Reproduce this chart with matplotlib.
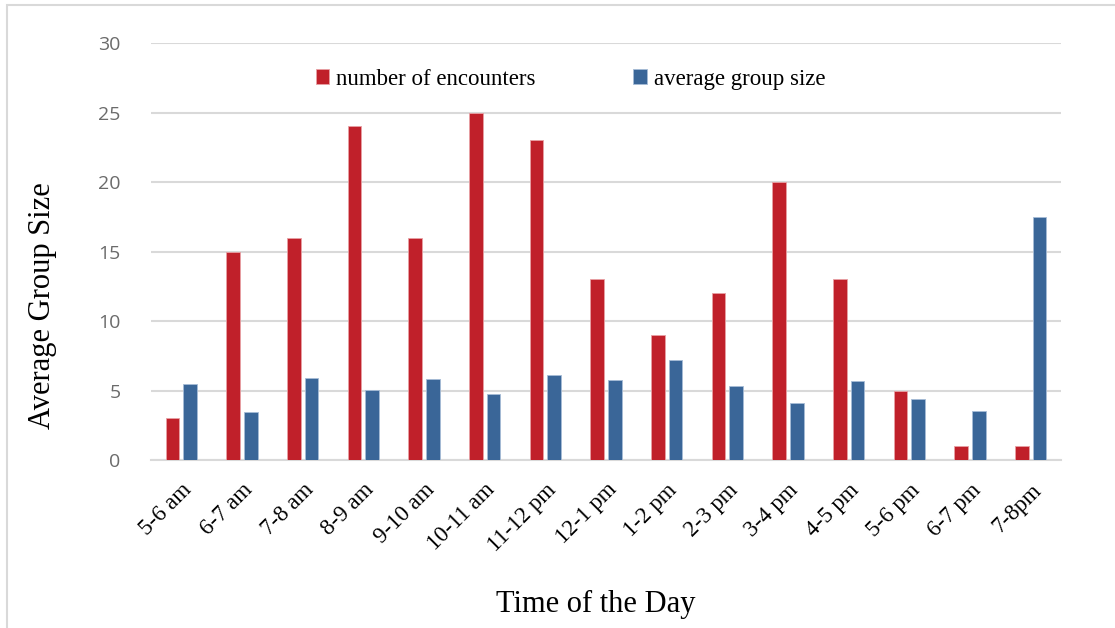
import matplotlib.pyplot as plt
import numpy as np
from matplotlib.patches import Rectangle

hours = ["5-6 am", "6-7 am", "7-8 am", "8-9 am", "9-10 am", "10-11 am", "11-12 pm",
         "12-1 pm", "1-2 pm", "2-3 pm", "3-4 pm", "4-5 pm", "5-6 pm", "6-7 pm", "7-8pm"]
encounters = [3, 15, 16, 24, 16, 25, 23, 13, 9, 12, 20, 13, 5, 1, 1]
group_size = [5.5, 3.45, 5.9, 5.05, 5.8, 4.75, 6.15, 5.75, 7.2, 5.35, 4.1, 5.7, 4.4, 3.5, 17.5]

RED = "#c0202a"
BLUE = "#3a6698"
SERIF = "Liberation Serif"


def main():
    fig = plt.figure(figsize=(11.15, 6.28), dpi=100)
    ax = fig.add_axes([0.1354, 0.2675, 0.8162, 0.664])

    x = np.arange(len(hours))
    w = 0.224
    ax.bar(x - 0.145, encounters, width=w, color=RED, edgecolor="#e8a0a4",
           linewidth=0.6, label="number of encounters", zorder=3)
    ax.bar(x + 0.145, group_size, width=w, color=BLUE, edgecolor="#a6bcd6",
           linewidth=0.6, label="average group size", zorder=3)

    ax.set_xlim(-0.5, len(hours) - 0.5)
    ax.set_ylim(0, 30)
    ax.set_yticks(range(0, 31, 5))
    ax.yaxis.grid(True, color="#d9d9d9", linewidth=1.5, zorder=0)
    ax.set_axisbelow(True)
    for side in ["top", "right", "left"]:
        ax.spines[side].set_visible(False)
    ax.spines["bottom"].set_color("#d9d9d9")
    ax.spines["bottom"].set_linewidth(1.5)
    ax.tick_params(axis="both", length=0)
    ax.tick_params(axis="y", labelsize=14, labelcolor="#6b6b6b", pad=22)
    for lab in ax.get_yticklabels():
        lab.set_family("Open Sans")

    ax.set_xticks(x)
    ax.set_xticklabels(hours, rotation=45, ha="right", rotation_mode="anchor",
                       family=SERIF, fontsize=16.5)
    ax.tick_params(axis="x", pad=14)

    fig.text(0.038, 0.514, "Average Group Size", rotation=90, ha="center", va="center",
             family=SERIF, fontsize=22)
    fig.text(0.534, 0.037, "Time of the Day", ha="center", va="center",
             family=SERIF, fontsize=22)

    fig.legend(loc="center", bbox_to_anchor=(0.5117, 0.874), ncol=2, frameon=False,
               prop={"family": SERIF, "size": 16.5}, handlelength=0.6, handleheight=0.6,
               handletextpad=0.3, columnspacing=4.25)

    # light frame around the whole chart (only left/top visible in the reference)
    fig.patches.append(Rectangle((7 / 1115, -0.1), 1.2, 1 - 5 / 628 + 0.1,
                                 transform=fig.transFigure, fill=False,
                                 edgecolor="#d9d9d9", linewidth=1.5))

    fig.savefig("out.png", dpi=100)


if __name__ == "__main__":
    main()
